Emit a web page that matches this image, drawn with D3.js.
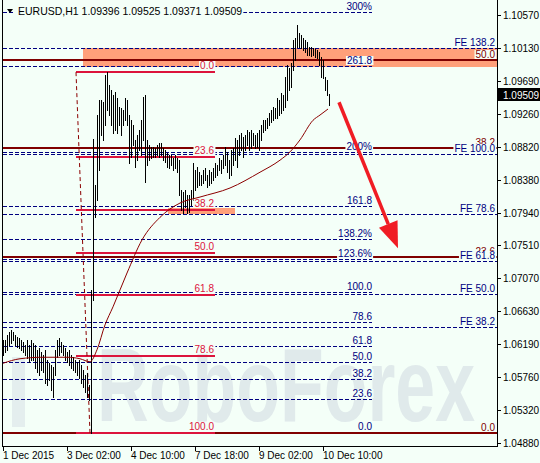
<!DOCTYPE html>
<html>
<head>
<meta charset="utf-8">
<script src="https://cdnjs.cloudflare.com/ajax/libs/d3/7.8.5/d3.min.js"></script>
<style>
  body { margin: 0; background: #fff; }
  svg { display: block; font-family: 'Liberation Sans', Arial, sans-serif; }
</style>
</head>
<body>
<div id="graf"></div>
<script>
// barras H1 EURUSD: maximo y minimo de cada barra
const maximos = [
  1.0625, 1.0625, 1.0631, 1.0635, 1.0638, 1.0635, 1.0631, 1.0629, 1.0628, 1.0625,
  1.0622, 1.0618, 1.0625, 1.0618, 1.0625, 1.0621, 1.0618, 1.0612, 1.0614, 1.0609,
  1.0605, 1.0612, 1.0598, 1.0594, 1.0592, 1.0589, 1.0612, 1.0625, 1.0628, 1.0622,
  1.0618, 1.0614, 1.0609, 1.0612, 1.0605, 1.0602, 1.0598, 1.0596, 1.0598, 1.0592,
  1.0585, 1.0578, 1.0581, 1.0565, 1.0691, 1.0892, 1.0831, 1.0924, 1.0944, 1.0944,
  1.0941, 1.0977, 1.0981, 1.0964, 1.0957, 1.0951, 1.0955, 1.0947, 1.0935, 1.0933,
  1.0931, 1.0947, 1.0944, 1.0924, 1.0917, 1.0911, 1.0891, 1.0897, 1.0904, 1.0917,
  1.0948, 1.0951, 1.0891, 1.0884, 1.0881, 1.0881, 1.0880, 1.0884, 1.0887, 1.0887,
  1.0880, 1.0877, 1.0873, 1.0871, 1.0871, 1.0867, 1.0871, 1.0867, 1.0864, 1.0824,
  1.0822, 1.0824, 1.0818, 1.0818, 1.0824, 1.0860, 1.0851, 1.0855, 1.0848, 1.0844,
  1.0851, 1.0854, 1.0844, 1.0851, 1.0848, 1.0854, 1.0860, 1.0857, 1.0867, 1.0864,
  1.0871, 1.0881, 1.0875, 1.0864, 1.0877, 1.0880, 1.0893, 1.0891, 1.0897, 1.0900,
  1.0895, 1.0897, 1.0904, 1.0901, 1.0904, 1.0900, 1.0897, 1.0900, 1.0904, 1.0911,
  1.0917, 1.0917, 1.0920, 1.0927, 1.0931, 1.0935, 1.0933, 1.0947, 1.0944, 1.0953,
  1.0951, 1.0975, 1.0990, 1.0987, 1.0993, 1.1024, 1.1026, 1.1044, 1.1033, 1.1031,
  1.1026, 1.1024, 1.1021, 1.1014, 1.1014, 1.1013, 1.1012, 1.1010, 1.1008, 1.1001,
  1.0997, 1.0975, 1.0971, 1.09525
]
const minimos = [
  1.0605, 1.0609, 1.0612, 1.0618, 1.0621, 1.0625, 1.0618, 1.0616, 1.0614, 1.0612,
  1.0609, 1.0605, 1.0601, 1.0596, 1.0598, 1.0598, 1.0588, 1.0582, 1.0578, 1.0585,
  1.0582, 1.0568, 1.0565, 1.0572, 1.0558, 1.0549, 1.0578, 1.0602, 1.0605, 1.0609,
  1.0605, 1.0598, 1.0596, 1.0592, 1.0588, 1.0585, 1.0582, 1.0578, 1.0574, 1.0568,
  1.0562, 1.0556, 1.0549, 1.0545, 1.0501, 1.0678, 1.0788, 1.0811, 1.0851, 1.0897,
  1.0891, 1.0911, 1.0931, 1.0924, 1.0911, 1.0900, 1.0904, 1.0900, 1.0911, 1.0897,
  1.0911, 1.0917, 1.0911, 1.0860, 1.0868, 1.0884, 1.0855, 1.0864, 1.0877, 1.0871,
  1.0891, 1.0835, 1.0857, 1.0864, 1.0867, 1.0868, 1.0868, 1.0871, 1.0868, 1.0871,
  1.0864, 1.0861, 1.0855, 1.0854, 1.0857, 1.0851, 1.0854, 1.0848, 1.0818, 1.0798,
  1.0794, 1.0802, 1.0794, 1.0795, 1.0804, 1.0811, 1.0824, 1.0828, 1.0831, 1.0831,
  1.0834, 1.0838, 1.0828, 1.0831, 1.0834, 1.0838, 1.0842, 1.0844, 1.0851, 1.0847,
  1.0854, 1.0857, 1.0848, 1.0840, 1.0844, 1.0857, 1.0864, 1.0855, 1.0871, 1.0877,
  1.0868, 1.0877, 1.0884, 1.0877, 1.0880, 1.0884, 1.0880, 1.0881, 1.0877, 1.0891,
  1.0901, 1.0904, 1.0907, 1.0911, 1.0915, 1.0917, 1.0920, 1.0920, 1.0924, 1.0927,
  1.0931, 1.0935, 1.0944, 1.0957, 1.0961, 1.0984, 1.0997, 1.1014, 1.1014, 1.1013,
  1.1010, 1.1008, 1.1004, 1.1004, 1.1002, 1.1004, 1.1001, 1.1000, 1.0990, 1.0975,
  1.0973, 1.0957, 1.0951, 1.09371
]
const cabecera = ['1.09396', '1.09525', '1.09371', '1.09509']
const precioActual = 1.09509

// media movil (barra, precio)
const mediaBarra  = [0, 8.5, 20, 32, 38.5, 43.5, 47, 51, 55, 62, 69.5, 78.5, 88.5, 98.5, 113.5, 128.5, 138.5, 143.5, 148.5, 155, 158.5, 162.5]
const mediaPrecio = [1.0594, 1.0600, 1.0602, 1.0602, 1.0600, 1.0596, 1.0612, 1.0645, 1.0669, 1.0714, 1.0758, 1.0788, 1.0807, 1.0815, 1.0827, 1.0848, 1.0864, 1.0875, 1.0891, 1.0917, 1.0924, 1.0932]

// ejes
const preciosTicks = [1.10570, 1.10130, 1.09690, 1.09260, 1.08820, 1.08380, 1.07940, 1.07510, 1.07070, 1.06630, 1.06190, 1.05760, 1.05320, 1.04880]
const fechasBarra = [0, 32, 64, 96, 128, 160]
const fechasTexto = ['1 Dec 2015', '3 Dec 02:00', '4 Dec 10:00', '7 Dec 18:00', '9 Dec 02:00', '10 Dec 10:00']

// fibo rojo (retroceso)
const rojoPrecios = [1.0981, 1.0501]
const rojoBarras = [36.5, 43.5, 106]
const rojoNiveles = [0, 23.6, 38.2, 50, 61.8, 78.6, 100]
const rojoTextos = ['0.0', '23.6', '38.2', '50.0', '61.8', '78.6', '100.0']

// fibo granate
const granatePrecios = [1.0501, 1.1493]
const granateNiveles = [0, 23.6, 38.2, 50]
const granateTextos = ['0.0', '23.6', '38.2', '50.0']

// expansion azul
const expPrecios = [1.0502, 1.06882]
const expFinBarra = 184.5
const expNiveles = [0, 23.6, 38.2, 50, 61.8, 78.6, 100, 123.6, 138.2, 161.8, 200, 261.8, 300]
const expTextos = ['0.0', '23.6', '38.2', '50.0', '61.8', '78.6', '100.0', '123.6%', '138.2%', '161.8', '200%', '261.8', '300%']

// FE
const fePrecios = [1.0501, 1.0872]
const feNiveles = [38.2, 50, 61.8, 78.6, 100, 138.2]
const feTextos = ['FE 38.2', 'FE 50.0', 'FE 61.8', 'FE 78.6', 'FE 100.0', 'FE 138.2']

// zonas y flecha
const zonaAltaBarras = [40, 247]
const zonaAltaPrecios = [1.1013, 1.0988]
const zonaBajaBarras = [82.5, 116]
const zonaBajaPrecios = [1.0800, 1.0792]
const flechaBarras = [168, 197.5]
const flechaPrecios = [1.0941, 1.0747]

const fondo = '#f4fff8'
const ancho = 540, alto = 463
const izq = 3, der = 497, abajo = 446

const svg = d3.select('#graf').append('svg')
  .attr('width', ancho)
  .attr('height', alto)

svg.append('rect').attr('width', ancho).attr('height', alto).attr('fill', fondo)

// escalas
const x = d3.scaleLinear().domain([0, 247]).range([izq, der])
const y = d3.scaleLinear().domain([1.04880, 1.10570]).range([443, 15])
const px = v => Math.round(x(v)) + 0.5
const py = v => Math.round(y(v)) + 0.5

svg.append('clipPath').attr('id', 'zona')
  .append('rect').attr('x', izq).attr('y', 0).attr('width', der - izq).attr('height', abajo)
const g = svg.append('g').attr('clip-path', 'url(#zona)')

// marca de agua
g.append('rect')
  .attr('x', 12).attr('y', 357).attr('width', 13).attr('height', 70)
  .attr('fill', '#e4eeee')
g.append('text')
  .attr('x', 97).attr('y', 421)
  .attr('font-size', 104)
  .attr('font-weight', 'bold')
  .attr('textLength', 378)
  .attr('lengthAdjust', 'spacingAndGlyphs')
  .attr('fill', '#e0eaeb')
  .text('RoboForex')

// rectangulos
function zona(barras, precios) {
  g.append('rect')
    .attr('x', Math.round(x(barras[0])))
    .attr('y', Math.round(y(precios[0])))
    .attr('width', Math.round(x(barras[1])) - Math.round(x(barras[0])))
    .attr('height', Math.round(y(precios[1])) - Math.round(y(precios[0])))
    .attr('fill', '#ffa07a')
}
zona(zonaAltaBarras, zonaAltaPrecios)
zona(zonaBajaBarras, zonaBajaPrecios)

function hline(x1, x2, yy, color, w, dash) {
  const l = g.append('line')
    .attr('x1', x1).attr('x2', x2).attr('y1', yy).attr('y2', yy)
    .attr('stroke', color).attr('stroke-width', w)
  if (dash) l.attr('stroke-dasharray', dash)
  return l
}

const nivel = (p, n) => p[0] + (p[1] - p[0]) * n / 100

// lineas de niveles
expNiveles.forEach(n => hline(izq, x(expFinBarra), py(nivel(expPrecios, n)), '#000080', 1, '4,2'))
feNiveles.forEach(n => hline(izq, der, py(nivel(fePrecios, n)), '#000080', 1, '4,2'))
granateNiveles.forEach(n => hline(izq, der, Math.round(y(nivel(granatePrecios, n))), '#800000', 2))
rojoNiveles.forEach(n => hline(x(rojoBarras[0]), x(rojoBarras[2]), Math.round(y(nivel(rojoPrecios, n))), '#dc143c', 2))

g.append('line')
  .attr('x1', x(rojoBarras[0])).attr('y1', y(rojoPrecios[0]))
  .attr('x2', x(rojoBarras[1])).attr('y2', y(rojoPrecios[1]))
  .attr('stroke', '#8b0000').attr('stroke-width', 1).attr('stroke-dasharray', '4,3')

// barras
g.selectAll('line.barra')
  .data(maximos)
  .enter()
  .append('line')
    .attr('class', 'barra')
    .attr('x1', (d, i) => px(i)).attr('x2', (d, i) => px(i))
    .attr('y1', d => Math.round(y(d)))
    .attr('y2', (d, i) => Math.max(Math.round(y(minimos[i])), Math.round(y(d)) + 1) + 1)
    .attr('stroke', '#000').attr('stroke-width', 1)

// media movil
const linea = d3.line()
  .x(d => x(d[0]))
  .y(d => y(d[1]))
  .curve(d3.curveMonotoneX)
g.append('path')
  .attr('d', linea(mediaBarra.map((b, i) => [b, mediaPrecio[i]])))
  .attr('fill', 'none').attr('stroke', '#8b0000').attr('stroke-width', 1)

// etiquetas con caja de fondo
function etiqueta(texto, xDer, yLinea, color) {
  const t = g.append('text')
    .attr('x', xDer).attr('y', yLinea - 2)
    .attr('text-anchor', 'end')
    .attr('font-size', 10)
    .attr('fill', color)
    .text(texto)
  const b = t.node().getBBox()
  g.insert('rect', () => t.node())
    .attr('x', b.x - 1).attr('y', b.y + 1)
    .attr('width', b.width + 2).attr('height', yLinea - 1 - (b.y + 1))
    .attr('fill', fondo)
}
granateNiveles.forEach((n, i) => etiqueta(granateTextos[i], der - 2, Math.round(y(nivel(granatePrecios, n))), '#800000'))
expNiveles.forEach((n, i) => etiqueta(expTextos[i], x(expFinBarra), Math.round(y(nivel(expPrecios, n))), '#000080'))
feNiveles.forEach((n, i) => etiqueta(feTextos[i], der - 2, Math.round(y(nivel(fePrecios, n))), '#000080'))
rojoNiveles.forEach((n, i) => etiqueta(rojoTextos[i], x(rojoBarras[2]) - 1, Math.round(y(nivel(rojoPrecios, n))) - 1, '#dc143c'))

// flecha
const fx1 = x(flechaBarras[0]), fy1 = y(flechaPrecios[0])
const fx2 = x(flechaBarras[1]), fy2 = y(flechaPrecios[1])
const largo = Math.hypot(fx2 - fx1, fy2 - fy1)
const ux = (fx2 - fx1) / largo, uy = (fy2 - fy1) / largo
const bx = fx2 - ux * 26, by = fy2 - uy * 26
g.append('line')
  .attr('x1', fx1).attr('y1', fy1).attr('x2', bx).attr('y2', by)
  .attr('stroke', '#f01c24').attr('stroke-width', 3.5)
g.append('path')
  .attr('d', `M${fx2},${fy2} L${bx - uy * 10},${by + ux * 10} L${bx + uy * 10},${by - ux * 10} Z`)
  .attr('fill', '#f01c24')

// cabecera
const cab = svg.append('text')
  .attr('x', 18).attr('y', 15)
  .attr('font-size', 10.5)
  .attr('fill', '#000')
  .text('EURUSD,H1  ' + cabecera.join(' '))
const cb = cab.node().getBBox()
svg.insert('rect', () => cab.node())
  .attr('x', 15).attr('y', 3).attr('width', cb.x + cb.width - 15 + 1).attr('height', 13)
  .attr('fill', fondo)
svg.append('path').attr('d', 'M7,9 L13,9 L10,13 Z').attr('fill', '#000')

// marco
svg.append('line').attr('x1', izq - 0.5).attr('x2', izq - 0.5).attr('y1', 0).attr('y2', abajo + 1).attr('stroke', '#000')
svg.append('line').attr('x1', der + 0.5).attr('x2', der + 0.5).attr('y1', 0).attr('y2', abajo + 1).attr('stroke', '#000')
svg.append('line').attr('x1', izq - 1).attr('x2', der + 1).attr('y1', abajo + 0.5).attr('y2', abajo + 0.5).attr('stroke', '#000')

// eje de precios
preciosTicks.forEach(v => {
  svg.append('line').attr('x1', der).attr('x2', der + 4).attr('y1', py(v)).attr('y2', py(v)).attr('stroke', '#000')
  svg.append('text')
    .attr('x', 503).attr('y', Math.round(y(v)) + 4)
    .attr('font-size', 10)
    .text(v.toFixed(5))
})

// precio actual
svg.append('rect')
  .attr('x', der + 1).attr('y', Math.round(y(precioActual)) - 7)
  .attr('width', ancho - der - 1).attr('height', 13)
  .attr('fill', '#000')
svg.append('text')
  .attr('x', 503).attr('y', Math.round(y(precioActual)) + 4)
  .attr('font-size', 10).attr('fill', '#fff')
  .text(precioActual.toFixed(5))

// eje de tiempo
fechasBarra.forEach((b, i) => {
  svg.append('line').attr('x1', px(b)).attr('x2', px(b)).attr('y1', abajo).attr('y2', abajo + 5).attr('stroke', '#000')
  svg.append('text')
    .attr('x', Math.round(x(b)))
    .attr('y', 459)
    .attr('font-size', 10)
    .text(fechasTexto[i])
})
</script>
</body>
</html>
